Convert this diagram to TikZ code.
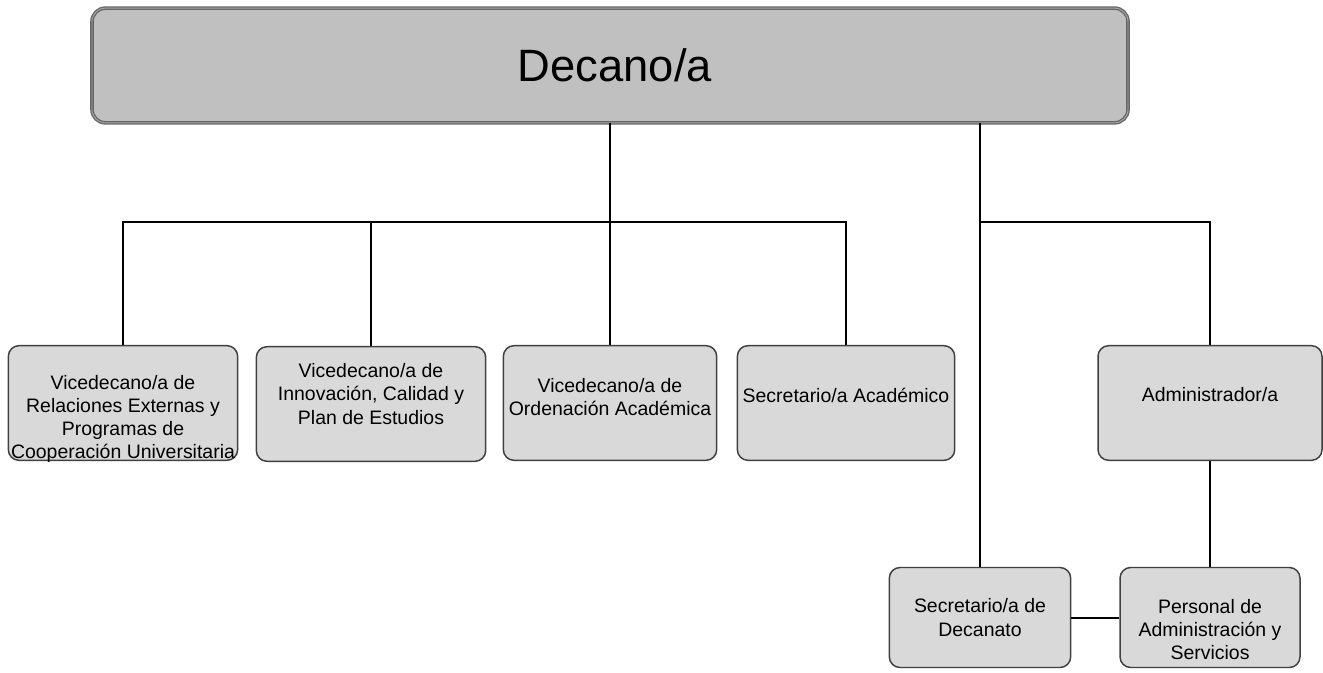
\documentclass[tikz,border=0pt]{standalone}
\usepackage{fontspec}
\setmainfont{Liberation Sans}
\definecolor{deanfill}{HTML}{C0C0C0}
\definecolor{boxfill}{HTML}{D9D9D9}
\definecolor{boxline}{HTML}{404040}
\begin{document}
\begin{tikzpicture}
[x=0.75pt,y=-0.75pt,
 deandecorate/.style={shape=rectangle,rounded corners=10pt,fill=deanfill,
   draw=black!60,double=black!35,double distance=0.7pt,line width=1pt,
   minimum width=777pt,minimum height=86pt},%
 boxdecorate/.style={shape=rectangle,rounded corners=8pt,fill=boxfill,
   draw=boxline,line width=1.1pt,minimum height=86pt},%
 textdecorate/.style={align=center,inner sep=0pt,font=\fontsize{14.6}{17.4}\selectfont},%
 linedecorate/.style={-,line width=1.5pt}]
\useasboundingbox (0,0) rectangle (1323,673);
%% nodes or vertices
\node (dean) at (610,65.5) [deandecorate] {};
\node (dean txt) at (615,65) [font=\fontsize{34}{40}\selectfont] {Decano/a};
\foreach \nodename/\x/\y/\w/\dy/\txt in {
  vice1/123/403/172/16/{Vicedecano/a de\\Relaciones Externas y\\Programas de\\Cooperación Universitaria},
  vice2/371/404/172/-10/{Vicedecano/a de\\Innovación, Calidad y\\Plan de Estudios},
  vice3/610/403/160/-6/{Vicedecano/a de\\Ordenación Académica},
  secac/846/403/163/-8/{Secretario/a Académico},
  admin/1210/403/168/-8/{Administrador/a}} {
  \node (\nodename) at (\x,\y) [boxdecorate,minimum width=\w pt] {};
  \node (\nodename txt) at (\x,\y+\dy) [textdecorate] {\txt};
}
\foreach \nodename/\x/\y/\w/\dy/\txt in {
  secdec/980/617.5/136/0/{Secretario/a de\\Decanato},
  staff/1210/617.5/135/12/{Personal de\\Administración y\\Servicios}} {
  \node (\nodename) at (\x,\y) [boxdecorate,minimum width=\w pt,minimum height=75pt] {};
  \node (\nodename txt) at (\x,\y+\dy) [textdecorate] {\txt};
}
\coordinate (bus) at (610,222);
\coordinate (split) at (980,222);
%% edges or lines
\draw[linedecorate] (dean.south) -- (bus);
\draw[linedecorate] (vice1.north) |- (secac.north |- bus) -- (secac.north);
\foreach \nodename in {vice2,vice3} {
  \draw[linedecorate] (\nodename.north) -- (\nodename.north |- bus);
}
\draw[linedecorate] (secdec.north |- dean.south) -- (secdec.north);
\draw[linedecorate] (split) -| (admin.north);
\draw[linedecorate] (admin.south) -- (staff.north);
\draw[linedecorate] (secdec.east) -- (staff.west);
\end{tikzpicture}
\end{document}
